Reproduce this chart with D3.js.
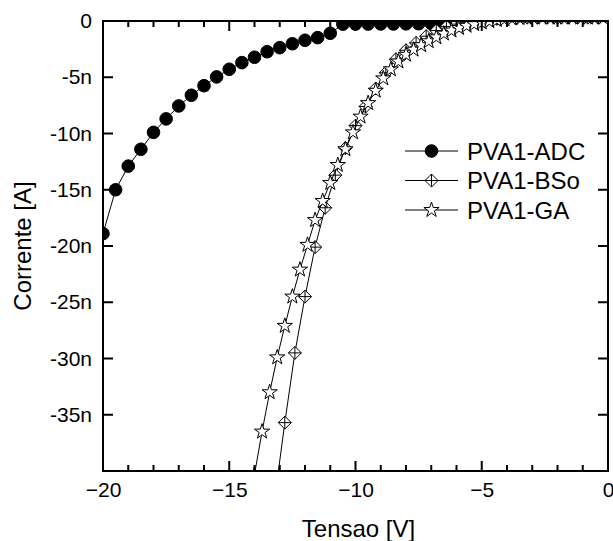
<!DOCTYPE html>
<html>
<head>
<meta charset="utf-8">
<script src="https://cdn.jsdelivr.net/npm/d3@7"></script>
<style>
  body { margin: 0; background: #fff; }
  svg { display: block; font-family: Arial, "Liberation Sans", sans-serif; }
</style>
</head>
<body>
<svg id="chart" width="613" height="541"></svg>
<script>
// tick labels
const xMajor = [-20, -15, -10, -5, 0];
const xMinor = [-19, -18, -17, -16, -14, -13, -12, -11, -9, -8, -7, -6, -4, -3, -2, -1];
const yMajor = [0, -5, -10, -15, -20, -25, -30, -35];

// PVA1-ADC (filled circles), tensao [V] / corrente [nA]
const adcV = [-20, -19.5, -19, -18.5, -18, -17.5, -17, -16.5, -16, -15.5, -15, -14.5, -14, -13.5,
              -13, -12.5, -12, -11.5, -11, -10.5, -10, -9.5, -9, -8.5, -8, -7.5, -7, -6.5, -6,
              -5.5, -5, -4.5];
const adcI = [-18.9, -15.0, -12.9, -11.4, -9.9, -8.7, -7.55, -6.6, -5.75, -4.97, -4.29, -3.7, -3.22, -2.73,
              -2.37, -2.02, -1.71, -1.48, -1.09, -0.28, -0.27, -0.27, -0.26, -0.26, -0.25, -0.24, -0.22, -0.2, -0.15,
              -0.05, 0.05, 0.3];

// PVA1-BSo (diamond with cross)
const bsoV = [-13.2, -12.8, -12.4, -12.0, -11.6, -11.2, -10.8, -10.4, -10.0, -9.6, -9.2, -8.8, -8.4,
              -8.0, -7.6, -7.2, -6.8, -6.4, -6.0, -5.6, -5.2, -4.8, -4.4, -4.0, -3.6, -3.2, -2.8,
              -2.4, -2.0, -1.6, -1.2, -0.8, -0.4];
const bsoI = [-42.5, -35.7, -29.5, -24.5, -20.1, -16.6, -13.7, -11.3, -9.3, -7.6, -6.0, -4.6, -3.4,
              -2.6, -1.95, -1.35, -0.85, -0.5, -0.28, -0.12, 0.0, 0.1, 0.2, 0.25, 0.28, 0.3, 0.3,
              0.3, 0.3, 0.3, 0.3, 0.3, 0.3];

// PVA1-GA (open stars)
const gaV = [-14.0, -13.7, -13.4, -13.1, -12.8, -12.5, -12.2, -11.9, -11.6, -11.3, -11.0, -10.7, -10.4,
             -10.1, -9.8, -9.5, -9.2, -8.9, -8.6, -8.3, -8.0, -7.7, -7.4, -7.1, -6.8, -6.5, -6.2,
             -5.9, -5.6, -5.3, -5.0, -4.7, -4.4, -4.1, -3.8, -3.5, -3.2, -2.9, -2.6, -2.3, -2.0,
             -1.7, -1.4, -1.1, -0.8, -0.5, -0.2];
const gaI = [-40.3, -36.5, -33.0, -29.9, -27.1, -24.5, -22.1, -19.9, -17.7, -16.0, -14.4, -12.8, -11.4,
             -9.9, -8.5, -7.3, -6.2, -5.1, -4.3, -3.6, -3.0, -2.55, -2.15, -1.8, -1.45, -1.12, -0.85,
             -0.62, -0.43, -0.28, -0.13, -0.02, 0.08, 0.16, 0.22, 0.26, 0.3, 0.3, 0.3, 0.3, 0.3,
             0.3, 0.3, 0.3, 0.3, 0.3, 0.3];

const seriesNames = ['PVA1-ADC', 'PVA1-BSo', 'PVA1-GA'];

function zip(xs, ys) { return xs.map(function (v, i) { return [v, ys[i]]; }); }

var margin = {left: 103, top: 21, right: 5, bottom: 70};
var svg = d3.select('#chart');
var width = 613 - margin.left - margin.right;
var height = 541 - margin.top - margin.bottom;

var x = d3.scaleLinear().domain([-20, 0]).range([0, width]);
var y = d3.scaleLinear().domain([-40, 0]).range([height, 0]);

var g = svg.append('g').attr('transform', 'translate(' + margin.left + ',' + margin.top + ')');

g.append('clipPath').attr('id', 'plotclip')
  .append('rect').attr('x', 0).attr('y', 0).attr('width', width).attr('height', height);

// marker shapes
var circlePath = d3.symbol().type(d3.symbolCircle).size(Math.PI * 6.3 * 6.3)();
var starPath = d3.symbol().type(d3.symbolStar).size(8 * 8 / 0.8908130915292852)();
function diamondPath(r) {
  return 'M0,' + (-r) + 'L' + r + ',0L0,' + r + 'L' + (-r) + ',0Z' +
         'M0,' + (-r) + 'L0,' + r + 'M' + (-r) + ',0L' + r + ',0';
}
var markers = [
  {path: circlePath, fill: '#000'},
  {path: diamondPath(6.5), fill: '#fff'},
  {path: starPath, fill: '#fff'}
];

var series = [zip(adcV, adcI), zip(bsoV, bsoI), zip(gaV, gaI)];

var line = d3.line().x(function (d) { return x(d[0]); }).y(function (d) { return y(d[1]); });

var plot = g.append('g').attr('clip-path', 'url(#plotclip)');
series.forEach(function (data, k) {
  var s = plot.append('g');
  s.append('path').datum(data)
    .attr('d', line)
    .attr('fill', 'none')
    .attr('stroke', '#000')
    .attr('stroke-width', 1);
  s.selectAll('path.mk').data(data).enter().append('path')
    .attr('class', 'mk')
    .attr('d', markers[k].path)
    .attr('transform', function (d) { return 'translate(' + x(d[0]) + ',' + y(d[1]) + ')'; })
    .attr('fill', markers[k].fill)
    .attr('stroke', '#000')
    .attr('stroke-width', 1);
});

// tick labels from d3 axes (no lines)
function labelsOnly(sel) {
  sel.select('.domain').remove();
  sel.selectAll('.tick line').remove();
  sel.selectAll('text').attr('fill', '#000').style('font-size', '21px');
}
g.append('g').attr('transform', 'translate(0,' + height + ')')
  .call(d3.axisBottom(x).tickValues(xMajor).tickSize(0).tickPadding(11).tickFormat(d3.format('d')))
  .call(labelsOnly);
g.append('g')
  .call(d3.axisLeft(y).tickValues(yMajor).tickSize(0).tickPadding(11)
    .tickFormat(function (d) { return d === 0 ? '0' : d + 'n'; }))
  .call(labelsOnly);

// tick marks inside the frame, one path
var tp = d3.path();
xMajor.forEach(function (d) {
  tp.moveTo(x(d), height); tp.lineTo(x(d), height - 10);
  tp.moveTo(x(d), 0); tp.lineTo(x(d), 10);
});
xMinor.forEach(function (d) {
  tp.moveTo(x(d), height); tp.lineTo(x(d), height - 6);
  tp.moveTo(x(d), 0); tp.lineTo(x(d), 6);
});
yMajor.forEach(function (d) {
  tp.moveTo(0, y(d)); tp.lineTo(10, y(d));
  tp.moveTo(width, y(d)); tp.lineTo(width - 10, y(d));
});
g.append('path')
  .attr('d', tp.toString())
  .attr('fill', 'none')
  .attr('stroke', '#000')
  .attr('stroke-width', 2);

g.append('rect')
  .attr('x', 0).attr('y', 0).attr('width', width).attr('height', height)
  .attr('fill', 'none').attr('stroke', '#000').attr('stroke-width', 2);

// axis titles
svg.append('text')
  .attr('x', margin.left + width / 2 + 3).attr('y', 537)
  .attr('text-anchor', 'middle')
  .style('font-size', '24px')
  .text('Tensao [V]');
svg.append('text')
  .attr('transform', 'translate(31,' + (margin.top + height / 2) + ') rotate(-90)')
  .attr('text-anchor', 'middle')
  .style('font-size', '24px')
  .text('Corrente [A]');

// legend
var legend = svg.append('g').attr('transform', 'translate(405,151)');
seriesNames.forEach(function (name, k) {
  var row = legend.append('g').attr('transform', 'translate(0,' + (k * 29.5) + ')');
  row.append('line').attr('x1', 0).attr('x2', 53).attr('y1', 0).attr('y2', 0)
    .attr('stroke', '#000').attr('stroke-width', 1);
  row.append('path').attr('d', markers[k].path)
    .attr('transform', 'translate(26.5,0)')
    .attr('fill', markers[k].fill).attr('stroke', '#000').attr('stroke-width', 1);
  row.append('text').attr('x', 62).attr('y', 0).attr('dy', '0.36em')
    .style('font-size', '24px')
    .text(name);
});
</script>
</body>
</html>
